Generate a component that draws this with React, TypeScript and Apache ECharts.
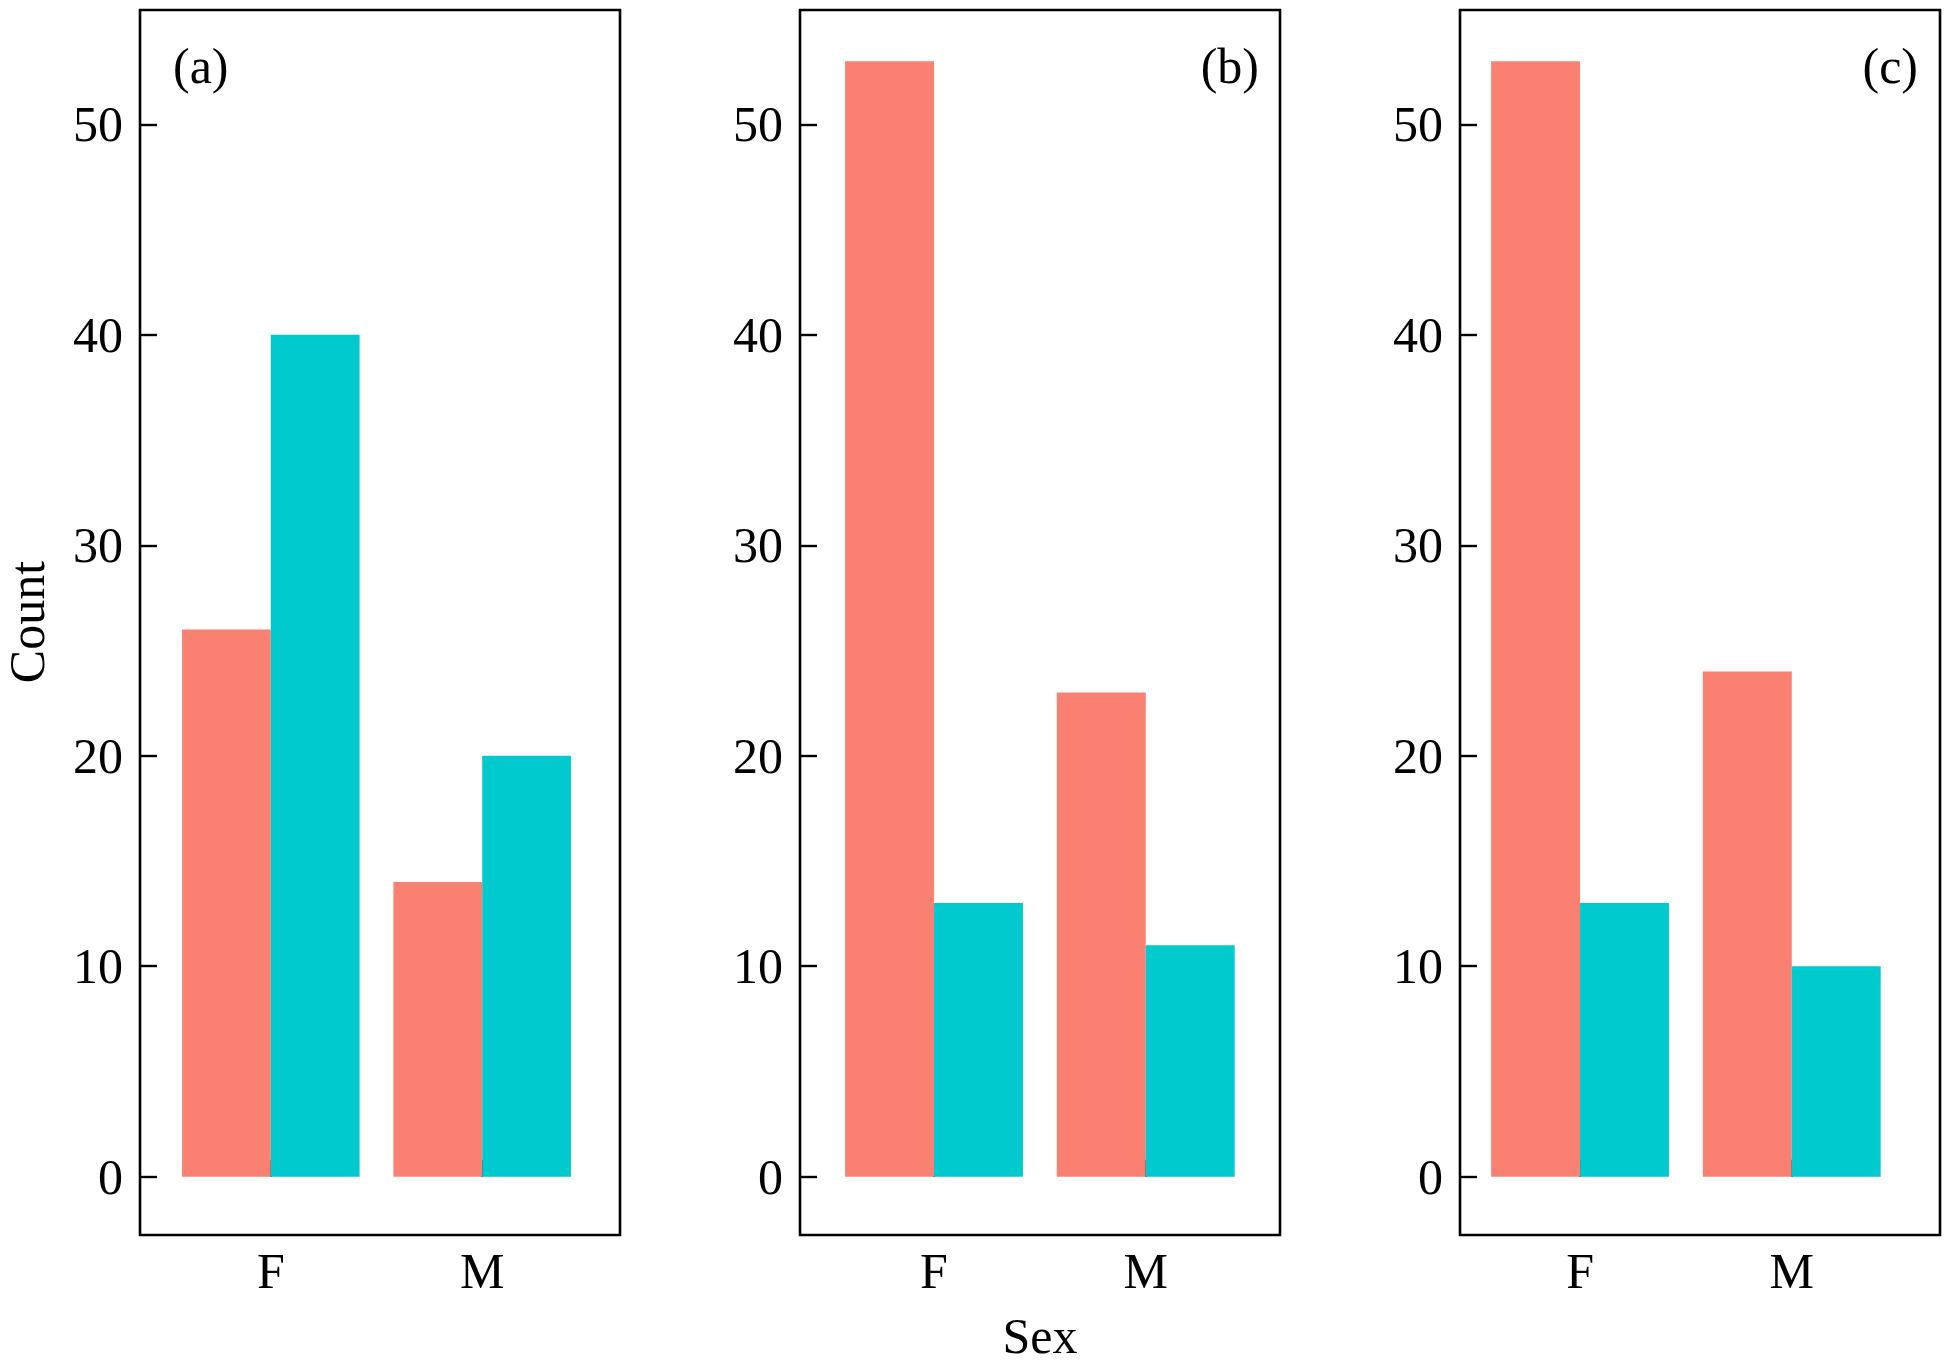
import React, { useEffect, useRef } from "react";
import * as echarts from "echarts";

// ---- Data ----
const sexCategories = ["F", "M"];
const groupNames = ["Group 1", "Group 2"];
const panelLabels = ["(a)", "(b)", "(c)"];
const panelAGroup1 = [26, 14];
const panelAGroup2 = [40, 20];
const panelBGroup1 = [53, 23];
const panelBGroup2 = [13, 11];
const panelCGroup1 = [53, 24];
const panelCGroup2 = [13, 10];
const yTickValues = [0, 10, 20, 30, 40, 50];
const xTitle = "Sex";
const yTitle = "Count";

const panels = [
  [panelAGroup1, panelAGroup2],
  [panelBGroup1, panelBGroup2],
  [panelCGroup1, panelCGroup2],
];

const groupColors = ["#FA8072", "#00CACE"];
const FONT = "'Liberation Serif', 'Times New Roman', serif";

export default function App() {
  const ref = useRef<HTMLDivElement>(null);

  useEffect(() => {
    if (!ref.current) return;
    const chart = echarts.init(ref.current, undefined, { renderer: "svg" });

    const panelLefts = [140, 800, 1460];
    const panelXRanges = [
      [0.381, 2.652],
      [0.367, 2.634],
      [0.433, 2.7],
    ];
    const panelWidth = 480;
    const panelTop = 10;
    const panelHeight = 1225;

    const grids = panelLefts.map((left) => ({
      left,
      top: panelTop,
      width: panelWidth,
      height: panelHeight,
      show: true,
      borderColor: "#000",
      borderWidth: 2.6,
      backgroundColor: "transparent",
      containLabel: false,
    }));

    const xAxes = panelLefts.map((_, i) => ({
      type: "value",
      gridIndex: i,
      min: panelXRanges[i][0],
      max: panelXRanges[i][1],
      splitLine: { show: false },
      axisLine: { show: false },
      axisTick: {
        show: true,
        inside: true,
        length: 17,
        customValues: sexCategories.map((_, k) => k + 1),
        lineStyle: { color: "#000", width: 2.4 },
      },
      axisLabel: {
        show: true,
        customValues: sexCategories.map((_, k) => k + 1),
        formatter: (v: number) => sexCategories[Math.round(v) - 1] ?? "",
        color: "#000",
        fontSize: 50,
        fontFamily: FONT,
        margin: 11,
      },
    }));

    const yAxes = panelLefts.map((_, i) => ({
      type: "value",
      gridIndex: i,
      min: -2.77,
      max: 55.43,
      splitLine: { show: false },
      axisLine: { show: false },
      axisTick: {
        show: true,
        inside: true,
        length: 17,
        customValues: yTickValues,
        lineStyle: { color: "#000", width: 2.4 },
      },
      axisLabel: {
        show: true,
        customValues: yTickValues,
        color: "#000",
        fontSize: 50,
        fontFamily: FONT,
        margin: 17,
      },
    }));

    const series: any[] = [];
    panels.forEach((groups, i) => {
      groups.forEach((vals, g) => {
        series.push({
          type: "bar",
          name: groupNames[g],
          xAxisIndex: i,
          yAxisIndex: i,
          barWidth: "42%",
          barGap: "0%",
          itemStyle: { color: groupColors[g] },
          data: vals.map((v, k) => [k + 1, v]),
        });
      });
    });

    const textStyle = (text: string, align: string) => ({
      text,
      fill: "#000",
      font: `50px ${FONT}`,
      align,
      verticalAlign: "middle",
    });

    const graphics: any[] = [
      { type: "text", x: 173, y: 66, style: textStyle(panelLabels[0], "left") },
      { type: "text", x: 1259, y: 66, style: textStyle(panelLabels[1], "right") },
      { type: "text", x: 1918, y: 66, style: textStyle(panelLabels[2], "right") },
      {
        type: "text",
        x: 27,
        y: 622,
        rotation: Math.PI / 2,
        style: textStyle(yTitle, "center"),
      },
      { type: "text", x: 1040, y: 1336, style: textStyle(xTitle, "center") },
    ];

    chart.setOption({
      animation: false,
      backgroundColor: "#fff",
      textStyle: { fontFamily: FONT },
      grid: grids,
      xAxis: xAxes,
      yAxis: yAxes,
      series,
      graphic: graphics,
    } as any);

    return () => chart.dispose();
  }, []);

  return (
    <div
      ref={ref}
      style={{
        position: "fixed",
        left: 0,
        top: 0,
        width: 1950,
        height: 1364,
        background: "#fff",
      }}
    />
  );
}
